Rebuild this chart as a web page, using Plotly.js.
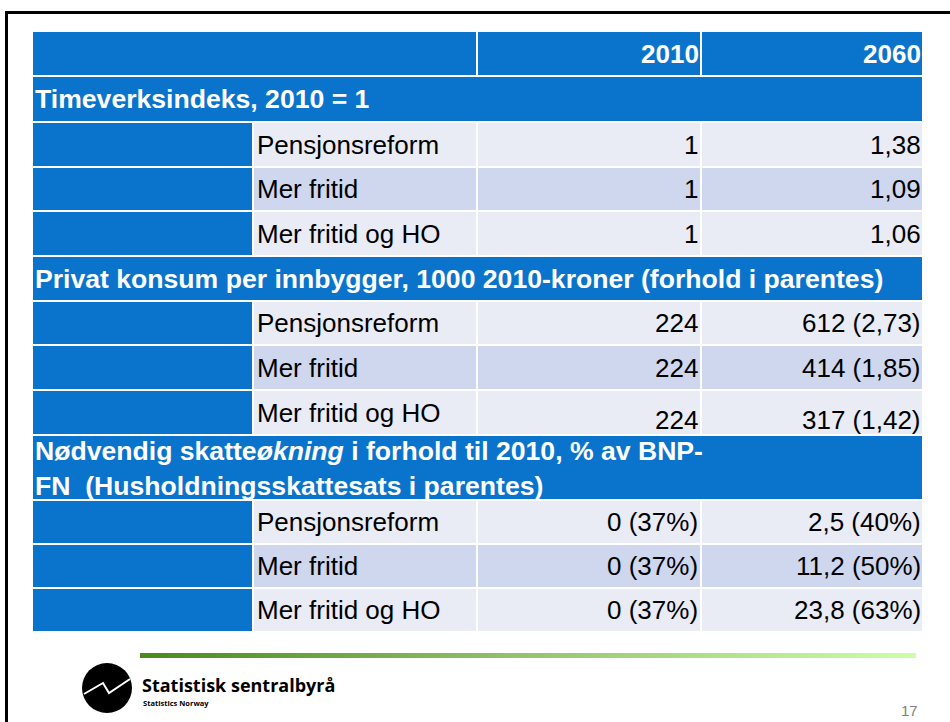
<!DOCTYPE html>
<html>
<head>
<meta charset="utf-8">
<script src="https://cdn.plot.ly/plotly-3.0.1.min.js"></script>
<style>html,body{margin:0;padding:0;background:#fff;}#chart{width:950px;height:722px;}</style>
</head>
<body>
<div id="chart"></div>
<script>
// ---- data ----
const years = ['2010', '2060'];
const sections = [
  'Timeverksindeks, 2010 = 1',
  'Privat konsum per innbygger, 1000 2010-kroner (forhold i parentes)',
  'Nødvendig skatte<i>økning</i> i forhold til 2010, % av BNP-<br>FN  (Husholdningsskattesats i parentes)'
];
const scenarios = ['Pensjonsreform', 'Mer fritid', 'Mer fritid og HO'];
const hours2010 = [1, 1, 1];
const hours2060 = [1.38, 1.09, 1.06];
const cons2010 = [224, 224, 224];
const cons2060 = [612, 414, 317];
const consRatio2060 = [2.73, 1.85, 1.42];
const tax2010 = [0, 0, 0];
const rate2010 = [37, 37, 37];
const tax2060 = [2.5, 11.2, 23.8];
const rate2060 = [40, 50, 63];
const pageNumber = '17';

// ---- formatting ----
function fmt(v, d) { return (d ? v.toFixed(d) : String(v)).replace('.', ','); }
const sectionValues = [
  [hours2010.map(v => fmt(v, 0)), hours2060.map(v => fmt(v, 2))],
  [cons2010.map(v => fmt(v, 0)), cons2060.map((v, i) => fmt(v, 0) + ' (' + fmt(consRatio2060[i], 2) + ')')],
  [tax2010.map((v, i) => fmt(v, 0) + ' (' + rate2010[i] + '%)'), tax2060.map((v, i) => fmt(v, 1) + ' (' + rate2060[i] + '%)')]
];

// ---- layout geometry ----
const colX = [32, 253, 477, 701, 923];
const rowY = [31, 76, 122, 167, 211, 256, 301, 345, 390, 435, 500, 544, 588, 632];
const BLUE = '#0a74cd';
const LIGHT = '#e9ebf5';
const MID = '#cfd7ee';
const FONT = 'Liberation Sans, Arial, sans-serif';
const FS = 26;
const FSB = 26.6;

const shapes = [];
const annotations = [];
function rect(x0, x1, y0, y1, fill) {
  shapes.push({type: 'rect', xref: 'x', yref: 'y', x0: x0, x1: x1, y0: y0, y1: y1,
    fillcolor: fill, line: {color: '#ffffff', width: 2}, layer: 'below'});
}
function text(x, y, t, opts) {
  annotations.push(Object.assign({xref: 'x', yref: 'y', x: x, y: y, text: t, showarrow: false,
    xanchor: 'left', yanchor: 'middle', align: 'left',
    font: {family: FONT, size: FS, color: '#000'}}, opts || {}));
}

// header row
rect(colX[0], colX[2], rowY[0], rowY[1], BLUE);
rect(colX[2], colX[3], rowY[0], rowY[1], BLUE);
rect(colX[3], colX[4], rowY[0], rowY[1], BLUE);
years.forEach((yr, j) => {
  text(colX[3 + j], (rowY[0] + rowY[1]) / 2, '<b>' + yr + '</b>',
    {xanchor: 'right', font: {family: FONT, size: FS, color: '#fff'}});
});

let r = 1;
sections.forEach((sec, s) => {
  const y0 = rowY[r], y1 = rowY[r + 1];
  rect(colX[0], colX[4], y0, y1, BLUE);
  text(colX[0] + 1, (y0 + y1) / 2 + (s === 2 ? 1 : 0), '<b>' + sec + '</b>',
    {font: {family: FONT, size: FSB, color: '#fff'}});
  r++;
  scenarios.forEach((sc, i) => {
    const a = rowY[r], b = rowY[r + 1];
    const fill = (i === 1) ? MID : LIGHT;
    rect(colX[0], colX[1], a, b, BLUE);
    rect(colX[1], colX[2], a, b, fill);
    rect(colX[2], colX[3], a, b, fill);
    rect(colX[3], colX[4], a, b, fill);
    const cy = (a + b) / 2;
    text(colX[1] + 2, cy, sc);
    const shift = (s === 1 && i === 2) ? 7 : 0;
    text(colX[3] - 1, cy + shift, sectionValues[s][0][i], {xanchor: 'right'});
    text(colX[4], cy + shift, sectionValues[s][1][i], {xanchor: 'right'});
    r++;
  });
});

// slide frame
shapes.push({type: 'path', xref: 'x', yref: 'y', path: 'M 6.5 760 L 6.5 12.5 L 990 12.5',
  line: {color: '#000', width: 3}});

// logo
shapes.push({type: 'circle', xref: 'x', yref: 'y', x0: 82, x1: 132, y0: 663, y1: 713,
  fillcolor: '#000', line: {width: 0}});
shapes.push({type: 'path', xref: 'x', yref: 'y', path: 'M 84 694 L 103 683 L 109 693 L 130 679',
  line: {color: '#fff', width: 2}});
text(140, 685, '<b>Statistisk sentralbyrå</b>',
  {font: {family: 'Open Sans, DejaVu Sans, sans-serif', size: 18, color: '#000'}});
text(141, 703, '<b>Statistics Norway</b>',
  {font: {family: 'Open Sans, DejaVu Sans, sans-serif', size: 7.5, color: '#000'}});
text(920, 710, pageNumber,
  {xanchor: 'right', font: {family: FONT, size: 15, color: '#7f7f7f'}});

// gradient bar
const bar = {
  type: 'scatter', mode: 'lines', x: [140, 916, 916, 140, 140], y: [653, 653, 658, 658, 653],
  fill: 'toself', line: {width: 0, color: 'rgba(0,0,0,0)'},
  fillgradient: {type: 'horizontal', colorscale: [[0, '#4a8a18'], [0.5, '#95c46e'], [1, '#ccffaa']]},
  hoverinfo: 'skip', showlegend: false
};

const layout = {
  width: 950, height: 722, margin: {l: 0, r: 0, t: 0, b: 0},
  paper_bgcolor: '#fff', plot_bgcolor: '#fff',
  xaxis: {range: [0, 950], visible: false, fixedrange: true},
  yaxis: {range: [722, 0], visible: false, fixedrange: true},
  shapes: shapes, annotations: annotations, showlegend: false
};
Plotly.newPlot('chart', [bar], layout, {displayModeBar: false, staticPlot: true});
</script>
</body>
</html>
